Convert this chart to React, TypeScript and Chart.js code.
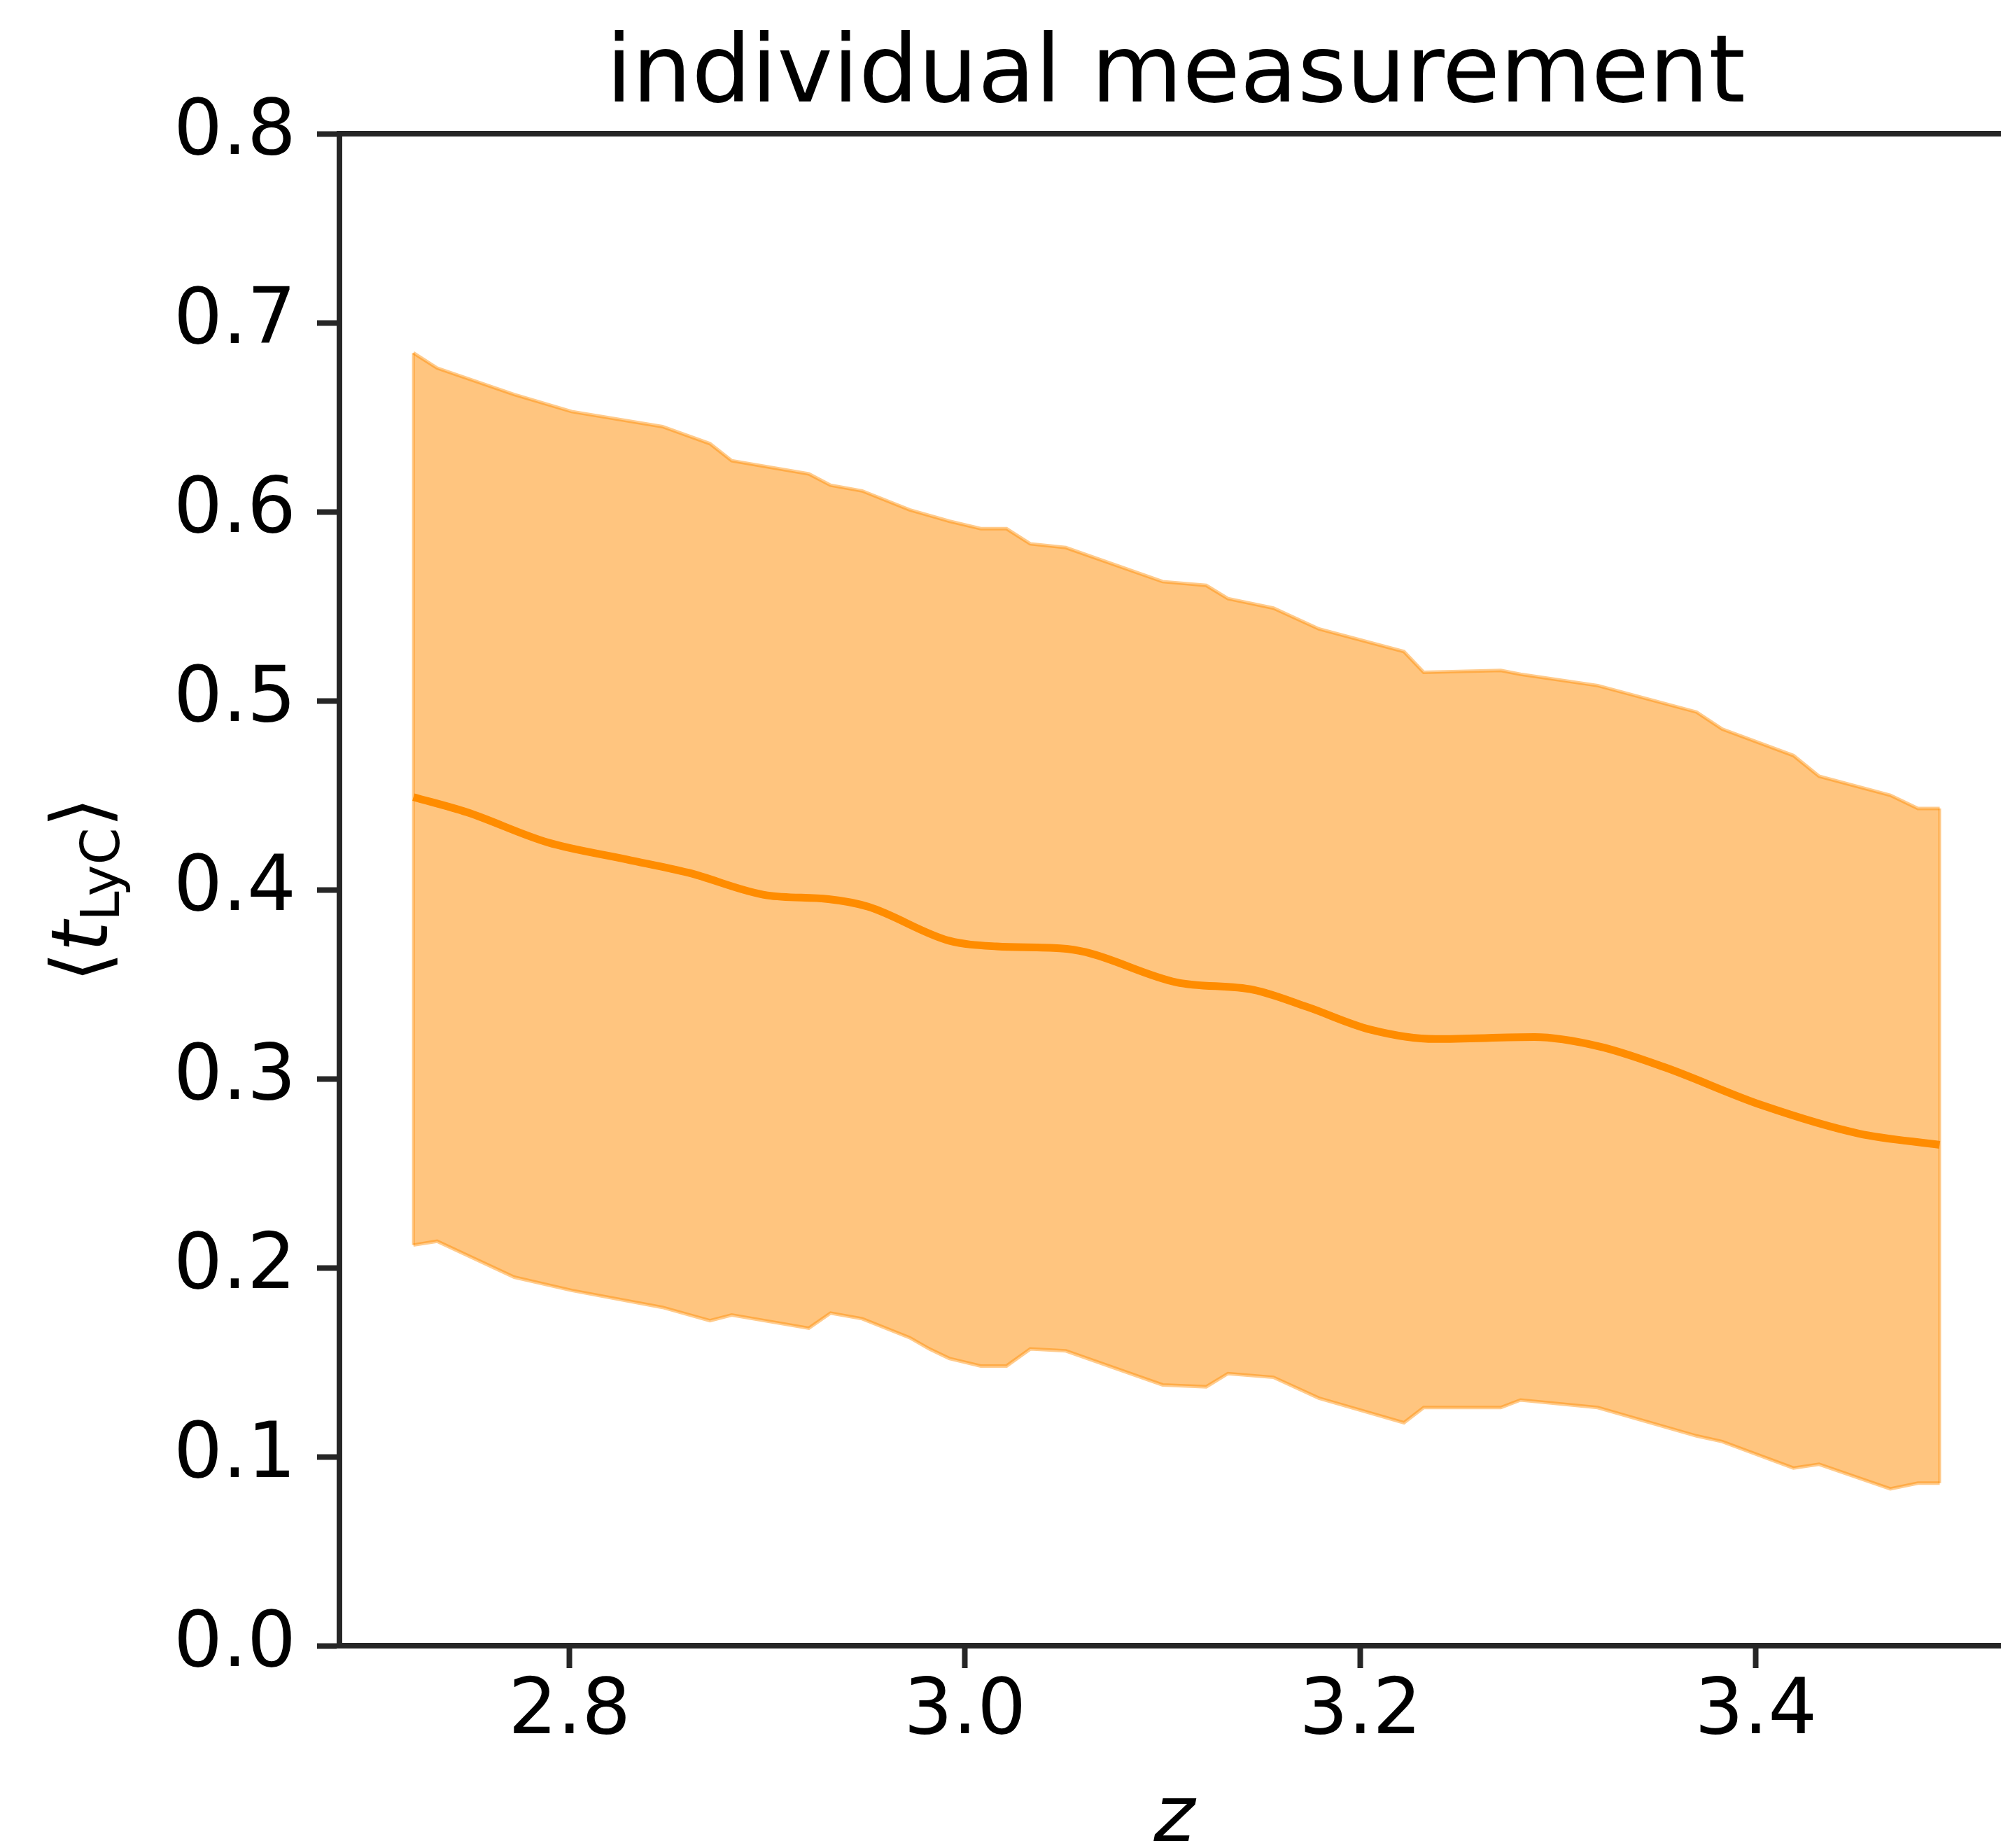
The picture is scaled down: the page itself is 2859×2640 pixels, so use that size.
import React, { useEffect, useRef } from "react";
import { Chart, registerables } from "chart.js";

Chart.register(...registerables);

const FONT = '"DejaVu Sans", "Liberation Sans", sans-serif';

const TITLE = "individual measurement";
const X_LABEL = "z";
const X_TICKS = [2.8, 3.0, 3.2, 3.4];
const Y_TICKS = [0.0, 0.1, 0.2, 0.3, 0.4, 0.5, 0.6, 0.7, 0.8];
const X_MIN = 2.6836;
const X_VISIBLE_MAX = 3.524;
const X_AXES_END = 3.5317;
const Y_MIN = 0;
const Y_MAX = 0.8;

// mean curve
const meanZ = [2.721, 2.748, 2.789, 2.829, 2.860, 2.900, 2.931, 2.951, 2.992, 3.016, 3.048, 3.061, 3.107, 3.146, 3.173, 3.205, 3.238, 3.288, 3.321, 3.354, 3.403, 3.452, 3.493];
const meanT = [0.449, 0.441, 0.425, 0.416, 0.409, 0.397, 0.395, 0.391, 0.373, 0.370, 0.369, 0.367, 0.351, 0.347, 0.338, 0.326, 0.321, 0.322, 0.317, 0.306, 0.286, 0.271, 0.265];

// uncertainty band
const bandZ = [2.721, 2.733, 2.772, 2.801, 2.847, 2.871, 2.882, 2.921, 2.932, 2.948, 2.972, 2.982, 2.992, 3.008, 3.021, 3.033, 3.051, 3.100, 3.122, 3.133, 3.156, 3.179, 3.222, 3.232, 3.271, 3.281, 3.320, 3.370, 3.383, 3.419, 3.432, 3.468, 3.482, 3.493];
const upperT = [0.684, 0.676, 0.662, 0.653, 0.645, 0.636, 0.627, 0.620, 0.614, 0.611, 0.601, 0.598, 0.595, 0.591, 0.591, 0.583, 0.581, 0.563, 0.561, 0.554, 0.549, 0.538, 0.526, 0.515, 0.516, 0.514, 0.508, 0.494, 0.485, 0.471, 0.460, 0.450, 0.443, 0.443];
const lowerT = [0.212, 0.214, 0.195, 0.188, 0.179, 0.172, 0.175, 0.168, 0.176, 0.173, 0.163, 0.157, 0.152, 0.148, 0.148, 0.157, 0.156, 0.138, 0.137, 0.144, 0.142, 0.131, 0.118, 0.126, 0.126, 0.130, 0.126, 0.111, 0.108, 0.094, 0.096, 0.083, 0.086, 0.086];

const LINE_COLOR = "#ff8c00";
const BAND_FILL = "rgba(255,140,0,0.5)";
const BAND_EDGE = "rgba(255,140,0,0.45)";
const AXIS_COLOR = "#262626";

const W = 2859;
const H = 2640;

const textPlugin = {
  id: "textPlugin",
  afterDraw(chart: any) {
    const { ctx, chartArea, scales } = chart;
    const xs = scales.x;
    ctx.save();
    // top spine
    ctx.strokeStyle = AXIS_COLOR;
    ctx.lineWidth = 8;
    ctx.beginPath();
    ctx.moveTo(chartArea.left - 4, chartArea.top);
    ctx.lineTo(chartArea.right, chartArea.top);
    ctx.stroke();

    // band end edges
    ctx.strokeStyle = BAND_EDGE;
    ctx.lineWidth = 4;
    const first = 0;
    const last = bandZ.length - 1;
    for (const i of [first, last]) {
      const px = xs.getPixelForValue(bandZ[i]);
      ctx.beginPath();
      ctx.moveTo(px, scales.y.getPixelForValue(upperT[i]));
      ctx.lineTo(px, scales.y.getPixelForValue(lowerT[i]));
      ctx.stroke();
    }

    ctx.fillStyle = "#000";
    const axesRight = xs.getPixelForValue(X_AXES_END);
    const cx = (chartArea.left + axesRight) / 2;

    // title
    ctx.font = `134px ${FONT}`;
    ctx.textAlign = "center";
    ctx.textBaseline = "alphabetic";
    ctx.fillText(TITLE, cx - 3, chartArea.top - 46);

    // x label
    ctx.font = `italic 112px ${FONT}`;
    ctx.fillText(X_LABEL, cx - 5, chartArea.bottom + 279);

    // y label <t_LyC>
    const parts = [
      { t: "\u27E8", font: `112px ${FONT}`, dy: 0 },
      { t: "t", font: `italic 112px ${FONT}`, dy: 0 },
      { t: "LyC", font: `76px ${FONT}`, dy: 17 },
      { t: "\u27E9", font: `112px ${FONT}`, dy: 0 },
    ];
    ctx.textAlign = "left";
    let total = 0;
    const widths = parts.map((p) => {
      ctx.font = p.font;
      const w = ctx.measureText(p.t).width;
      total += w;
      return w;
    });
    const cy = (chartArea.top + chartArea.bottom) / 2;
    ctx.translate(chartArea.left - 332, cy);
    ctx.rotate(-Math.PI / 2);
    let x = -total / 2;
    parts.forEach((p, i) => {
      ctx.font = p.font;
      ctx.fillText(p.t, x, p.dy);
      x += widths[i];
    });
    ctx.restore();
  },
};

export default function App() {
  const ref = useRef<HTMLCanvasElement | null>(null);

  useEffect(() => {
    document.body.style.margin = "0";
    const canvas = ref.current;
    if (!canvas) return;

    const tickFont = { family: FONT, size: 110, lineHeight: 1 };

    const chart = new Chart(canvas, {
      type: "line",
      data: {
        datasets: [
          {
            label: "mean",
            data: meanZ.map((z, i) => ({ x: z, y: meanT[i] })),
            borderColor: LINE_COLOR,
            borderWidth: 11,
            pointRadius: 0,
            fill: false,
            cubicInterpolationMode: "monotone",
          },
          {
            label: "upper",
            data: bandZ.map((z, i) => ({ x: z, y: upperT[i] })),
            borderColor: BAND_EDGE,
            backgroundColor: BAND_FILL,
            borderWidth: 5,
            pointRadius: 0,
            tension: 0,
            fill: "+1",
          },
          {
            label: "lower",
            data: bandZ.map((z, i) => ({ x: z, y: lowerT[i] })),
            borderColor: BAND_EDGE,
            borderWidth: 5,
            pointRadius: 0,
            tension: 0,
            fill: false,
          },
        ],
      },
      options: {
        responsive: false,
        animation: false,
        devicePixelRatio: 1,
        layout: { padding: { top: 191, right: 0, bottom: 0, left: 0 } },
        plugins: {
          legend: { display: false },
          tooltip: { enabled: false },
          title: { display: false },
        },
        scales: {
          x: {
            type: "linear",
            min: X_MIN,
            max: X_VISIBLE_MAX,
            afterBuildTicks: (s: any) => {
              s.ticks = X_TICKS.map((v) => ({ value: v }));
            },
            ticks: {
              font: tickFont,
              color: "#000",
              padding: 9,
              autoSkip: false,
              maxRotation: 0,
              minRotation: 0,
              callback: (v: any) => Number(v).toFixed(1),
            },
            grid: {
              display: true,
              drawOnChartArea: false,
              drawTicks: true,
              tickLength: 32,
              tickWidth: 8,
              tickColor: AXIS_COLOR,
            },
            border: { display: true, color: AXIS_COLOR, width: 8 },
            afterFit: (s: any) => {
              s.height = 289;
              s.paddingLeft = 0;
              s.paddingRight = 0;
            },
          },
          y: {
            type: "linear",
            min: Y_MIN,
            max: Y_MAX,
            afterBuildTicks: (s: any) => {
              s.ticks = Y_TICKS.map((v) => ({ value: v }));
            },
            ticks: {
              font: tickFont,
              color: "#000",
              padding: 30,
              autoSkip: false,
              callback: (v: any) => Number(v).toFixed(1),
            },
            grid: {
              display: true,
              drawOnChartArea: false,
              drawTicks: true,
              tickLength: 32,
              tickWidth: 8,
              tickColor: AXIS_COLOR,
            },
            border: { display: true, color: AXIS_COLOR, width: 8 },
            afterFit: (s: any) => {
              s.width = 485;
              s.paddingTop = 0;
              s.paddingBottom = 0;
            },
          },
        },
      } as any,
      plugins: [textPlugin],
    });

    return () => {
      chart.destroy();
    };
  }, []);

  return (
    <div style={{ width: W, height: H, overflow: "hidden", background: "#fff" }}>
      <canvas ref={ref} width={W} height={H} style={{ display: "block" }} />
    </div>
  );
}
